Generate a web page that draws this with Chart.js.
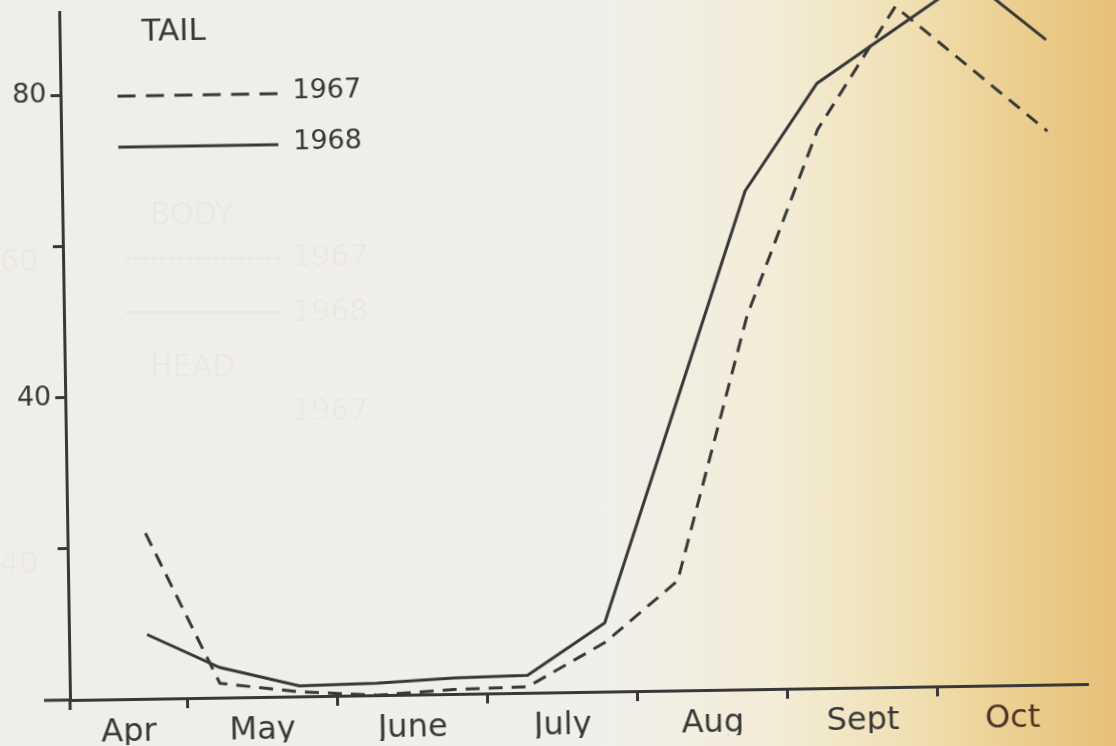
<!DOCTYPE html>
<html>
<head>
<meta charset="utf-8">
<script src="https://cdn.jsdelivr.net/npm/chart.js@4"></script>
<style>
  html, body { margin: 0; padding: 0; width: 1116px; height: 746px; overflow: hidden; }
  body {
    position: relative;
    font-family: 'DejaVu Sans', sans-serif;
    background: linear-gradient(to right, #efeee9 0%, #f0efe9 55%, #f3ecd6 70%, #f0dfb1 82%, #ebcd8c 92%, #e7c077 100%);
  }
  /* the scan is tilted a little, so the whole sheet is too */
  #sheet { position: absolute; left: 0; top: 0; width: 1116px; height: 746px; transform: rotate(-0.9deg); transform-origin: 70px 700px; }
  /* faint print showing through from the back of the page */
  .ghost { position: absolute; color: rgba(60, 60, 50, 0.035); font-size: 30px; }
  .ghost-line { position: absolute; width: 155px; border-top: 3px solid rgba(60, 60, 50, 0.03); }
  .ghost-line.dash { border-top-style: dashed; }
</style>
</head>
<body>
<div class="ghost" style="left:150px;top:196px">BODY</div>
<div class="ghost-line dash" style="left:125px;top:257px"></div>
<div class="ghost" style="left:292px;top:238px">1967</div>
<div class="ghost-line" style="left:125px;top:311px"></div>
<div class="ghost" style="left:292px;top:293px">1968</div>
<div class="ghost" style="left:150px;top:348px">HEAD</div>
<div class="ghost" style="left:292px;top:392px">1967</div>
<div class="ghost" style="left:0px;top:243px">60</div>
<div class="ghost" style="left:0px;top:545px">40</div>

<div id="sheet"><canvas id="tailChart" width="1116" height="746"></canvas></div>

<script>
// sampling dates, in months counted from 1 April (1 = 1 May ... 6 = 1 Oct)
const sampleMonths = [0.74, 1.22, 1.75, 2.27, 2.78, 3.27, 3.79, 4.28, 4.77, 5.26, 5.79, 6.28, 6.79];
// null = no corner visible there, the line just runs straight through
const tail1967 = [21.9, 1.9, 0.6, 0, 0.6, 0.8, 6.5, 14.5, 49.4, 73.9, 90.0, null, 73.2];
const tail1968 = [8.5, 4.0, 1.4, 1.6, 2.1, 2.3, 9.1, null, 65.9, 80.0, null, 93.6, 85.3];

const monthNames = ['Apr', 'May', 'June', 'July', 'Aug', 'Sept', 'Oct'];
const monthStarts = [1, 2, 3, 4, 5, 6];
const yTickValues = [20, 40, 60, 80];
const yTickLabels = ['', '40', '', '80'];
const seriesNames = ['1967', '1968'];
const legendTitle = 'TAIL';

const X_MIN = 0.22;
const X_MAX = 6.995;
const ink = '#383838';
const FONT = "'DejaVu Sans', sans-serif";

function points(values) {
  return sampleMonths.map((m, i) => ({ x: m, y: values[i] }));
}

// month name sits in the middle of the visible part of its month
function monthCentre(i) {
  return (Math.max(i, X_MIN) + Math.min(i + 1, X_MAX)) / 2;
}

// legend drawn inside the plot, top left, like the hand lettered one
const tailLegend = {
  id: 'tailLegend',
  afterDraw(chart) {
    const ctx = chart.ctx;
    const area = chart.chartArea;
    ctx.save();
    ctx.strokeStyle = ink;
    ctx.fillStyle = ink;
    ctx.lineWidth = 3;

    // axis stubs past the origin
    ctx.beginPath();
    ctx.moveTo(area.left - 26, area.bottom);
    ctx.lineTo(area.left, area.bottom);
    ctx.moveTo(area.left, area.bottom);
    ctx.lineTo(area.left, area.bottom + 10);
    ctx.stroke();

    ctx.font = '31px ' + FONT;
    ctx.textBaseline = 'alphabetic';
    ctx.fillText(legendTitle, 152, 42);

    chart.data.datasets.forEach((ds, i) => {
      const y = 97 + i * 51;
      ctx.setLineDash(ds.borderDash && ds.borderDash.length ? [18, 10.4] : []);
      ctx.beginPath();
      ctx.moveTo(127, y);
      ctx.lineTo(287, y);
      ctx.stroke();
      ctx.setLineDash([]);
      ctx.font = '27px ' + FONT;
      ctx.fillText(ds.label, 302, y + 5);
    });
    ctx.restore();
  }
};

new Chart(document.getElementById('tailChart'), {
  type: 'line',
  data: {
    datasets: [
      {
        label: seriesNames[0],
        data: points(tail1967),
        borderColor: ink,
        borderWidth: 3,
        borderDash: [14, 9],
        pointRadius: 0,
        spanGaps: true,
        clip: false,
        tension: 0
      },
      {
        label: seriesNames[1],
        data: points(tail1968),
        borderColor: ink,
        borderWidth: 3,
        pointRadius: 0,
        spanGaps: true,
        clip: false,
        tension: 0
      }
    ]
  },
  options: {
    responsive: false,
    animation: false,
    layout: { padding: { left: 0, right: 29, top: 12, bottom: 0 } },
    plugins: {
      legend: { display: false },
      tooltip: { enabled: false }
    },
    scales: {
      // axis line and the tick marks at the month boundaries
      x: {
        type: 'linear',
        position: 'bottom',
        min: X_MIN,
        max: X_MAX,
        afterBuildTicks: (scale) => {
          scale.ticks = monthStarts.map((v) => ({ value: v }));
        },
        afterFit: (scale) => {
          scale.height = 10;
          scale.paddingLeft = 0;
          scale.paddingRight = 0;
        },
        ticks: { autoSkip: false, maxRotation: 0, padding: 0, callback: () => '' },
        grid: {
          drawOnChartArea: false,
          drawTicks: true,
          tickLength: 10,
          lineWidth: 3,
          color: ink
        },
        border: { display: true, color: ink, width: 3 }
      },
      // month names, between the marks
      months: {
        type: 'linear',
        position: 'bottom',
        min: X_MIN,
        max: X_MAX,
        afterBuildTicks: (scale) => {
          scale.ticks = monthNames.map((_, i) => ({ value: monthCentre(i) }));
        },
        afterFit: (scale) => {
          scale.height = 36;
          scale.paddingLeft = 0;
          scale.paddingRight = 0;
        },
        ticks: {
          autoSkip: false,
          maxRotation: 0,
          padding: 4,
          font: { family: FONT, size: 32 },
          color: (c) => (c.index === 6 ? '#4d3524' : ink),
          callback: (v, i) => monthNames[i]
        },
        grid: { display: false, drawTicks: false },
        border: { display: false }
      },
      y: {
        min: 0,
        max: 91,
        afterBuildTicks: (scale) => {
          scale.ticks = yTickValues.map((v) => ({ value: v }));
        },
        afterFit: (scale) => {
          scale.width = 70;
          scale.paddingTop = 0;
          scale.paddingBottom = 0;
        },
        ticks: {
          padding: 4,
          font: { family: FONT, size: 27 },
          color: ink,
          callback: (v, i) => yTickLabels[i]
        },
        grid: {
          drawOnChartArea: false,
          drawTicks: true,
          tickLength: 10,
          lineWidth: 3,
          color: ink
        },
        border: { display: true, color: ink, width: 3 }
      }
    }
  },
  plugins: [tailLegend]
});
</script>
</body>
</html>
